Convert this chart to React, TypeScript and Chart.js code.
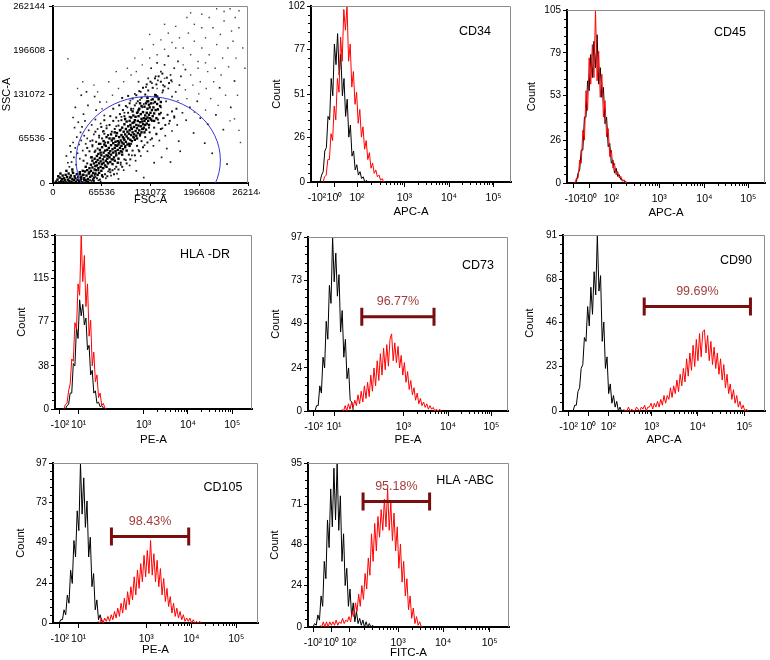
import React, { useEffect, useRef } from "react";
import { Chart, registerables } from "chart.js";

Chart.register(...registerables);

const FONT = "'Liberation Sans', Arial, Helvetica, sans-serif";
const BIN = 0.8; // histogram channel width, in % of the display axis
const SCATTER_UNIT = 1000;

// ---------- Scatter (FSC-A vs SSC-A), values in thousands ----------
const scatterTicks = [0, 65536, 131072, 196608, 262144];
const scatterMax = 262144;
const gateEllipse = { cx: 128000, cy: 34000, rx: 97000, ry: 94000 };

const scatterCore = [
  [4,2],[6,5],[8,1],[9,8],[11,3],[12,6],[13,11],[14,2],[15,7],[16,4],[17,12],[18,1],[19,9],[20,5],[21,14],[22,3],[23,8],[24,11],[25,2],[26,6],[27,15],[28,4],[29,10],[30,7],[31,2],[32,13],[33,5],[34,9],[35,3],[36,16],[10,14],[7,10],[18,18],[26,20],[38,6],[40,12],[42,4],
  [37,3],[38,9],[39,1],[41,12],[42,7],[43,17],[44,4],[45,11],[46,19],[47,6],[48,14],[49,22],[50,9],[36,13],[40,18],[44,24],[47,2],[49,16],
  [51,18],[51,27],[52,11],[53,23],[53,33],[54,15],[55,29],[55,8],[56,20],[56,36],[57,25],[57,14],[58,31],[58,19],[59,40],[59,26],[60,12],[60,34],[52,38],[54,5],
  [61,22],[61,43],[62,29],[62,15],[63,37],[63,49],[64,24],[64,32],[65,18],[65,41],[66,28],[66,53],[67,35],[67,22],[68,45],[68,30],[69,39],[69,57],[70,26],[70,48],[62,58],[66,11],[68,62],[64,45],
  [71,33],[71,55],[72,41],[72,24],[73,49],[73,36],[74,60],[74,29],[75,44],[75,52],[76,38],[76,66],[77,47],[77,31],[78,56],[78,42],[79,35],[79,63],[80,50],[80,28],[72,68],[76,20],[78,72],[74,40],
  [81,45],[81,59],[82,38],[82,66],[83,52],[83,33],[84,61],[84,47],[85,70],[85,41],[86,55],[86,74],[87,49],[87,62],[88,36],[88,57],[89,68],[89,44],[90,52],[90,78],[83,75],[87,30],[84,56],[89,60],
  [91,63],[91,47],[92,71],[92,55],[93,82],[93,60],[94,50],[94,68],[95,76],[95,58],[96,87],[96,64],[97,53],[97,72],[98,80],[98,61],[99,91],[99,69],[100,57],[100,76],[93,42],[97,95],[95,66],[99,48],
  [101,66],[101,84],[102,73],[102,58],[103,92],[103,78],[104,64],[104,86],[105,71],[105,97],[106,80],[106,62],[107,89],[107,75],[108,68],[108,100],[109,83],[109,72],[110,93],[110,64],[103,55],[107,106],[105,82],[109,90],
  [111,77],[111,98],[112,86],[112,70],[113,104],[113,81],[114,92],[114,74],[115,99],[115,85],[116,78],[116,110],[117,90],[117,72],[118,102],[118,84],[119,95],[119,114],[120,80],[120,91],[113,66],[117,118],[115,108],[119,75],
  [121,87],[121,105],[122,96],[122,82],[123,113],[123,92],[124,100],[124,86],[125,118],[125,95],[126,104],[126,88],[127,110],[127,97],[128,92],[128,121],[129,101],[129,86],[130,112],[130,96],[123,75],[127,126],[125,79],[129,116],
  [131,104],[132,94],[132,118],[133,108],[134,99],[134,124],[135,112],[136,103],[137,120],[138,108],[139,96],[140,117],[141,109],[142,124],[143,102],[144,114],[136,92],[140,128],[145,120],[138,130]
];

const scatterHalo = [
  [41,33],[44,41],[46,29],[49,47],[51,38],[53,56],[56,46],[58,61],[60,51],[62,70],[64,58],[66,66],[68,77],[70,60],[72,81],[74,71],[76,86],[79,76],[81,92],[83,80],[85,97],[88,85],[90,102],[92,93],[94,108],[96,99],[98,114],[101,104],[103,118],[105,110],[107,125],[110,115],[112,130],[114,121],[116,136],[119,126],[121,141],[124,131],[126,146],[128,137],[131,150],[134,141],[137,155],[139,146],[142,158],[145,150],[147,162],[150,143],[153,156],[156,148],
  [46,52],[53,63],[57,76],[65,83],[69,93],[77,99],[81,110],[89,115],[93,126],[101,129],[57,48],[69,73],[80,66],[91,79],[103,98],[114,105],[126,121],[137,128],[148,137],[159,152],
  [45,2],[50,4],[55,3],[59,7],[63,5],[67,9],[70,13],[73,10],[77,16],[80,19],[82,13],[85,24],[88,20],[91,30],[93,24],[96,35],[99,29],[102,42],[104,35],[107,48],[110,41],[113,55],[116,47],[119,62],[121,53],[124,68],[127,60],[130,75],[133,66],[136,82],[139,73],[142,89],[145,80],[148,96],[151,86],[154,101],[157,92],[160,106],[163,97],[166,110],
  [56,12],[61,19],[68,22],[73,31],[81,35],[85,44],[93,46],[97,55],[105,58],[109,67],[117,70],[121,80],[129,82],[133,92],[141,94],[145,104]
];

const scatterMid = [
  [22,24],[25,31],[28,38],[24,46],[30,52],[27,60],[33,44],[35,57],[32,68],[37,75],[29,82],[34,90],[38,63],[40,48],[42,70],[44,58],[36,36],[31,27],[26,17],[20,30],[18,40],[23,55],[39,83],[43,92],[46,66],[48,78],[41,102],[52,86],[50,62],[55,72],[57,94],[53,54],[60,80],[62,67],[58,108],[47,115],[64,88],[67,76],[69,100],[72,85],[63,120],[56,128],[45,135],[38,130],[30,112],[27,97],
  [52,3],[57,9],[61,4],[66,12],[71,7],[74,17],[78,11],[83,21],[86,14],[91,27],[95,19],[98,34],[103,26],[106,41],[111,33],[115,49],[118,40],[123,56],[127,47],[131,64],[135,55],[139,72],[143,63],[147,81],[151,70],[156,88],[149,96],[160,77],[167,86],[163,99],[174,104],[179,93],[184,112],[169,62],[153,51],[146,38],[158,31],[171,47],[189,74],[198,96],[208,87],[194,121],[204,59],[219,101],[229,79],[239,112],[214,44],[234,28],[224,141],[244,151],[64,2],[88,6],[112,18],[136,30],[122,8],
  [108,110],[112,118],[117,123],[122,117],[127,128],[132,123],[137,131],[142,126],[147,134],[152,121],[118,135],[125,142],[133,148],[141,152],[148,145],[155,140],[160,128],[165,135],[170,145],[145,165],[138,158],[128,155],[150,175],[158,160],[163,170],[172,158],[178,168],[168,180],[155,188],[140,178],[132,170],[115,150],[110,132],[104,122],[100,112],[96,104],[92,98],[88,92],[85,84],[97,94],[105,108],[113,104],[120,112],[135,118],[145,112]
];

const scatterSparse = [
  [175,200],[185,190],[190,210],[182,222],[195,180],[200,200],[205,215],[210,190],[215,230],[220,205],[225,220],[230,240],[235,200],[240,225],[245,245],[250,255],[242,210],[228,185],[218,170],[208,165],[198,150],[188,145],[178,138],[168,122],[196,132],[206,140],[216,150],[226,160],[236,172],[246,185],[232,130],[244,95],[252,60],[248,130],[160,208],[150,198],[140,190],[130,185],[120,175],[112,165],[105,160],[95,150],[88,140],[80,130],[72,120],[66,110],[60,135],[55,145],[20,184],[40,150],[33,140],[75,150],[85,165],[100,170],[110,185],[120,198],[135,205],[145,212],[155,222],[165,232],[170,215],[180,245],[190,235],[200,250],[210,245],[220,258],[238,258],[230,254],[250,230],[255,200],[258,170],[200,230],[185,252],[165,200],[150,235],[130,220],[160,150],[175,175],[140,140],[150,155],[185,160],[195,170],[205,178],[212,125],[222,115],[238,92],[250,78],[180,125],[190,105],[205,108]
];

// ---------- Histogram axis labels ----------
const apcLabels = ["-10²", "10⁰", "10²", "10³", "10⁴", "10⁵"];
const peLabels = ["-10²", "10¹", "10³", "10⁴", "10⁵"];

const cd34TickPos = [3, 11.7, 23, 46.7, 69, 91.3];
const cd45TickPos = [3.4, 11.3, 22.4, 46.6, 69.4, 91.6];
const hladrTickPos = [2.5, 12, 45, 67.5, 90];
const cd73TickPos = [2.8, 13, 47.7, 70, 91.7];
const cd90TickPos = [2.8, 12.6, 22.5, 43.8, 66.8, 89.8];
const cd105TickPos = [3.3, 12.5, 45.5, 67.5, 89.4];
const hlaabcTickPos = [2.5, 11.6, 20.4, 44.8, 67.2, 90.4];

const cd34YTicks = [0, 26, 51, 77, 102];
const cd45YTicks = [0, 26, 53, 79, 105];
const hladrYTicks = [0, 38, 77, 115, 153];
const cd73YTicks = [0, 24, 49, 73, 97];
const cd90YTicks = [0, 23, 46, 68, 91];
const cd105YTicks = [0, 24, 49, 73, 97];
const hlaabcYTicks = [0, 24, 48, 71, 95];

// ---------- Histogram counts (black = isotype control, red = marker) ----------
const cd34BlackStart = 4.5;
const cd34Black = [0,4,6,18,20,38,36,60,50,80,68,86,62,74,50,60,38,48,26,33,15,18,7,10,4,6,2,3,0,1,0];
const cd34RedStart = 6;
const cd34Red = [0,3,4,13,13,28,24,44,36,60,52,84,70,100,88,102,70,80,55,64,45,52,34,42,26,32,19,24,13,17,8,11,5,7,3,4,1,2,0,0];

const cd45BlackStart = 4;
const cd45Black = [0,1,6,8,20,20,40,40,62,56,78,64,86,70,90,60,70,52,58,36,40,22,24,12,14,6,9,4,5,2,2,1,1,0];
const cd45RedStart = 4;
const cd45Red = [0,3,3,14,12,32,26,56,44,76,60,84,64,105,62,80,52,66,40,50,28,33,16,20,9,12,5,7,3,4,1,2,0,0];

const hladrBlackStart = 5.3;
const hladrBlack = [0,3,4,14,14,40,38,72,62,96,82,92,74,80,52,56,30,34,14,16,5,6,2,3,1,0];
const hladrRedStart = 4.5;
const hladrRed = [0,4,5,16,22,44,42,76,70,110,100,153,112,135,90,110,64,78,38,50,24,30,10,14,3,5,1,0];

const cd73BlackStart = 3.5;
const cd73Black = [0,3,3,14,10,30,24,50,40,70,60,97,72,88,64,76,44,56,30,40,18,24,6,5,0];
const cd73RedStart = 17;
const cd73Red = [1,0,3,0,4,1,5,2,6,3,9,4,11,5,14,7,16,8,20,11,24,14,28,17,32,20,35,23,37,25,40,43,28,38,27,36,24,31,20,27,16,22,12,17,9,13,6,10,4,7,3,5,2,4,1,3,1,2,0,1,0,1,0];

const cd90BlackStart = 5;
const cd90Black = [0,3,3,10,12,22,24,38,36,54,44,64,50,72,60,91,62,70,36,46,22,28,9,14,4,8,2,5,0,2,0,0];
const cd90RedStart = 30;
const cd90Red = [1,0,0,2,0,1,0,0,2,1,0,2,1,3,0,2,2,4,1,4,2,5,2,6,3,8,4,8,6,12,7,13,9,16,10,19,13,22,15,27,18,30,21,34,23,37,26,40,28,41,42,30,39,26,36,24,33,22,30,19,27,16,24,12,19,9,14,6,11,4,8,2,5,1,3,0,1,0];

const cd105BlackStart = 3;
const cd105Black = [0,2,2,8,5,17,12,32,24,50,40,68,56,97,66,88,58,74,40,52,22,30,8,14,2,5,1,0];
const cd105RedStart = 22;
const cd105Red = [1,0,3,0,3,1,4,1,5,2,7,3,9,4,12,6,15,8,19,11,22,14,28,17,32,21,36,25,41,28,44,30,50,29,42,25,38,22,33,17,27,13,21,10,16,6,12,4,9,3,7,2,5,1,3,1,3,0,2,0,1,0,1,0];

const hlaabcBlackStart = 2.5;
const hlaabcBlack = [0,2,1,7,4,18,12,38,28,62,46,80,58,92,62,95,56,76,38,54,24,34,12,22,6,14,3,9,2,5,1,4,0,3,0,2,0,1,0,0];
const hlaabcRedStart = 6;
const hlaabcRed = [1,0,3,0,3,0,3,1,3,1,4,1,3,2,5,2,4,3,6,3,9,6,14,9,19,12,24,16,31,22,40,30,54,38,60,44,64,52,68,56,74,58,80,56,72,50,66,44,58,34,48,26,38,18,28,10,18,5,11,2,6,1,3,0,0];

// ---------- Positive gates: [from %, to %, count level] ----------
const cd73Gate = [26.9, 63, 52.5];
const cd73GateLabel = "96.77%";
const cd90Gate = [40.2, 92.8, 54];
const cd90GateLabel = "99.69%";
const cd105Gate = [28.5, 66.2, 52.4];
const cd105GateLabel = "98.43%";
const hlaabcGate = [27.4, 60.5, 72.7];
const hlaabcGateLabel = "95.18%";

// ---------- helpers / plugins ----------
const SUP: Record<string, number> = { "⁰": 0, "¹": 1, "²": 2, "³": 3, "⁴": 4, "⁵": 5 };

function toPoints(vals: number[], start: number) {
  return vals.map((v, i) => ({ x: start + i * BIN, y: v }));
}

const framePlugin = {
  id: "frame",
  afterDatasetsDraw(chart: any) {
    const { ctx, chartArea: a } = chart;
    ctx.save();
    ctx.strokeStyle = "#8c8c8c";
    ctx.lineWidth = 1;
    ctx.beginPath();
    ctx.moveTo(a.left, a.top + 0.5);
    ctx.lineTo(a.right - 0.5, a.top + 0.5);
    ctx.lineTo(a.right - 0.5, a.bottom);
    ctx.stroke();
    ctx.restore();
  },
};

const minorTicksPlugin = {
  id: "minorTicks",
  afterDraw(chart: any, _args: any, opts: any) {
    const { ctx, chartArea: a, scales } = chart;
    const x = scales.x, y = scales.y;
    ctx.save();
    ctx.strokeStyle = "#000";
    ctx.lineWidth = 1;
    ctx.beginPath();
    const yt: number[] = opts.yTicks || [];
    const sub = opts.ySub || 5;
    for (let i = 0; i < yt.length - 1; i++) {
      const step = (yt[i + 1] - yt[i]) / sub;
      for (let k = 1; k < sub; k++) {
        const py = Math.round(y.getPixelForValue(yt[i] + k * step)) + 0.5;
        ctx.moveTo(a.left - 3, py);
        ctx.lineTo(a.left, py);
      }
    }
    const pos: number[] = opts.xPos || [];
    const labels: string[] = opts.xLabels || [];
    const dec = pos.map((p, i) => {
      const l = labels[i];
      if (!l || l[0] === "-") return null;
      const e = SUP[l[l.length - 1]];
      return e === undefined ? null : [p, e];
    });
    for (let i = 0; i < dec.length - 1; i++) {
      const d0 = dec[i], d1 = dec[i + 1];
      if (!d0 || !d1 || d1[1] - d0[1] !== 1 || d0[1] < 1) continue;
      for (let k = 2; k <= 9; k++) {
        const px = Math.round(x.getPixelForValue(d0[0] + Math.log10(k) * (d1[0] - d0[0]))) + 0.5;
        ctx.moveTo(px, a.bottom);
        ctx.lineTo(px, a.bottom + 3);
      }
    }
    ctx.stroke();
    ctx.restore();
  },
};

const annotPlugin = {
  id: "annot",
  afterDatasetsDraw(chart: any, _args: any, opts: any) {
    const { ctx, chartArea: a, scales } = chart;
    ctx.save();
    if (opts.name) {
      ctx.fillStyle = "#000";
      ctx.font = `12.5px ${FONT}`;
      ctx.textAlign = "center";
      ctx.textBaseline = "middle";
      ctx.fillText(opts.name, a.right + opts.nameDx, a.top + opts.nameDy);
    }
    if (opts.gate) {
      const [g0, g1, lv] = opts.gate;
      const x0 = scales.x.getPixelForValue(g0);
      const x1 = scales.x.getPixelForValue(g1);
      const py = scales.y.getPixelForValue(lv);
      ctx.strokeStyle = "#7a0d0d";
      ctx.lineWidth = 3;
      ctx.beginPath();
      ctx.moveTo(x0, py);
      ctx.lineTo(x1, py);
      ctx.moveTo(x0, py - 9);
      ctx.lineTo(x0, py + 9);
      ctx.moveTo(x1, py - 9);
      ctx.lineTo(x1, py + 9);
      ctx.stroke();
      ctx.fillStyle = "#a23c3c";
      ctx.font = `12.5px ${FONT}`;
      ctx.textAlign = "center";
      ctx.textBaseline = "middle";
      ctx.fillText(opts.gateLabel, (x0 + x1) / 2, py - 15);
    }
    ctx.restore();
  },
};

const ellipsePlugin = {
  id: "ellipseGate",
  afterDatasetsDraw(chart: any) {
    const { ctx, chartArea: a, scales } = chart;
    const x = scales.x, y = scales.y;
    const cx = x.getPixelForValue(gateEllipse.cx);
    const cy = y.getPixelForValue(gateEllipse.cy);
    const rx = Math.abs(x.getPixelForValue(gateEllipse.cx + gateEllipse.rx) - cx);
    const ry = Math.abs(y.getPixelForValue(gateEllipse.cy + gateEllipse.ry) - cy);
    ctx.save();
    ctx.beginPath();
    ctx.rect(a.left, a.top, a.right - a.left, a.bottom - a.top);
    ctx.clip();
    ctx.beginPath();
    ctx.ellipse(cx, cy, rx, ry, 0, 0, Math.PI * 2);
    ctx.strokeStyle = "#3838d0";
    ctx.lineWidth = 1;
    ctx.stroke();
    ctx.restore();
  },
};

// ---------- panels ----------
type HistCfg = {
  name: string;
  xTitle: string;
  plotLeft: number;
  plotTop: number;
  plotW: number;
  plotH: number;
  yAxisW: number;
  xAxisH: number;
  xTickPos: number[];
  xTickLabels: string[];
  yTicks: number[];
  red: number[];
  redStart: number;
  black: number[];
  blackStart: number;
  gate?: number[];
  gateLabel?: string;
  nameDx: number;
  nameDy: number;
};

const PAD_TOP = 9;
const PAD_RIGHT = 6;

const histPanels: HistCfg[] = [
  { name: "CD34", xTitle: "APC-A", plotLeft: 311, plotTop: 6, plotW: 200, plotH: 176, yAxisW: 41, xAxisH: 37, xTickPos: cd34TickPos, xTickLabels: apcLabels, yTicks: cd34YTicks, red: cd34Red, redStart: cd34RedStart, black: cd34Black, blackStart: cd34BlackStart, nameDx: -36, nameDy: 26 },
  { name: "CD45", xTitle: "APC-A", plotLeft: 567, plotTop: 10, plotW: 198, plotH: 173, yAxisW: 42, xAxisH: 37, xTickPos: cd45TickPos, xTickLabels: apcLabels, yTicks: cd45YTicks, red: cd45Red, redStart: cd45RedStart, black: cd45Black, blackStart: cd45BlackStart, nameDx: -35, nameDy: 23 },
  { name: "HLA -DR", xTitle: "PE-A", plotLeft: 55, plotTop: 235, plotW: 197, plotH: 174, yAxisW: 40, xAxisH: 38, xTickPos: hladrTickPos, xTickLabels: peLabels, yTicks: hladrYTicks, red: hladrRed, redStart: hladrRedStart, black: hladrBlack, blackStart: hladrBlackStart, nameDx: -47, nameDy: 20 },
  { name: "CD73", xTitle: "PE-A", plotLeft: 308, plotTop: 237, plotW: 200, plotH: 174, yAxisW: 39, xAxisH: 36, xTickPos: cd73TickPos, xTickLabels: peLabels, yTicks: cd73YTicks, red: cd73Red, redStart: cd73RedStart, black: cd73Black, blackStart: cd73BlackStart, gate: cd73Gate, gateLabel: cd73GateLabel, nameDx: -30, nameDy: 29 },
  { name: "CD90", xTitle: "APC-A", plotLeft: 563, plotTop: 235, plotW: 202, plotH: 176, yAxisW: 40, xAxisH: 36, xTickPos: cd90TickPos, xTickLabels: apcLabels, yTicks: cd90YTicks, red: cd90Red, redStart: cd90RedStart, black: cd90Black, blackStart: cd90BlackStart, gate: cd90Gate, gateLabel: cd90GateLabel, nameDx: -29, nameDy: 26 },
  { name: "CD105", xTitle: "PE-A", plotLeft: 53, plotTop: 463, plotW: 205, plotH: 160, yAxisW: 39, xAxisH: 34, xTickPos: cd105TickPos, xTickLabels: peLabels, yTicks: cd105YTicks, red: cd105Red, redStart: cd105RedStart, black: cd105Black, blackStart: cd105BlackStart, gate: cd105Gate, gateLabel: cd105GateLabel, nameDx: -35, nameDy: 25 },
  { name: "HLA -ABC", xTitle: "FITC-A", plotLeft: 308, plotTop: 463, plotW: 201, plotH: 164, yAxisW: 40, xAxisH: 33, xTickPos: hlaabcTickPos, xTickLabels: apcLabels, yTicks: hlaabcYTicks, red: hlaabcRed, redStart: hlaabcRedStart, black: hlaabcBlack, blackStart: hlaabcBlackStart, gate: hlaabcGate, gateLabel: hlaabcGateLabel, nameDx: -44, nameDy: 18 },
];

function HistPanel({ cfg }: { cfg: HistCfg }) {
  const ref = useRef<HTMLCanvasElement>(null);
  const w = cfg.yAxisW + cfg.plotW + PAD_RIGHT;
  const h = PAD_TOP + cfg.plotH + cfg.xAxisH;
  useEffect(() => {
    const canvas = ref.current;
    if (!canvas) return;
    const chart = new Chart(canvas, {
      type: "line",
      data: {
        datasets: [
          { data: toPoints(cfg.red, cfg.redStart), borderColor: "#ff0000", borderWidth: 1, pointRadius: 0, tension: 0, fill: false },
          { data: toPoints(cfg.black, cfg.blackStart), borderColor: "#000000", borderWidth: 1, pointRadius: 0, tension: 0, fill: false },
        ],
      } as any,
      options: {
        responsive: false,
        animation: false,
        events: [],
        layout: { padding: { top: PAD_TOP, right: PAD_RIGHT, left: 0, bottom: 0 } },
        plugins: {
          legend: { display: false },
          tooltip: { enabled: false },
          minorTicks: { yTicks: cfg.yTicks, ySub: 5, xPos: cfg.xTickPos, xLabels: cfg.xTickLabels },
          annot: { name: cfg.name, nameDx: cfg.nameDx, nameDy: cfg.nameDy, gate: cfg.gate, gateLabel: cfg.gateLabel },
        } as any,
        scales: {
          x: {
            type: "linear",
            min: 0,
            max: 100,
            afterFit: (s: any) => { s.height = cfg.xAxisH; },
            afterBuildTicks: (s: any) => { s.ticks = cfg.xTickPos.map((v) => ({ value: v })); },
            ticks: {
              autoSkip: false,
              maxRotation: 0,
              minRotation: 0,
              padding: 5,
              color: "#000",
              font: { size: 10.5, family: FONT },
              callback: (_v: any, i: number) => cfg.xTickLabels[i],
            },
            grid: { display: true, drawOnChartArea: false, drawTicks: true, tickLength: 5, color: "#000", lineWidth: 1 },
            border: { display: true, color: "#000", width: 2 },
            title: { display: true, text: cfg.xTitle, padding: 0, color: "#000", font: { size: 11.5, family: FONT } },
          },
          y: {
            type: "linear",
            min: 0,
            max: cfg.yTicks[cfg.yTicks.length - 1],
            afterFit: (s: any) => { s.width = cfg.yAxisW; },
            afterBuildTicks: (s: any) => { s.ticks = cfg.yTicks.map((v) => ({ value: v })); },
            ticks: { padding: 2, color: "#000", font: { size: 10, family: FONT }, callback: (v: any) => String(v) },
            grid: { display: true, drawOnChartArea: false, drawTicks: true, tickLength: 4, color: "#000", lineWidth: 1 },
            border: { display: true, color: "#000", width: 2 },
            title: { display: true, text: "Count", padding: 0, color: "#000", font: { size: 11, family: FONT } },
          },
        } as any,
      },
      plugins: [framePlugin, minorTicksPlugin, annotPlugin],
    } as any);
    return () => chart.destroy();
  }, [cfg]);
  return (
    <canvas
      ref={ref}
      width={w}
      height={h}
      style={{ position: "absolute", left: cfg.plotLeft - cfg.yAxisW, top: cfg.plotTop - PAD_TOP, width: w, height: h }}
    />
  );
}

const SC = { plotLeft: 53, plotTop: 6, plotW: 195, plotH: 177, yAxisW: 53, xAxisH: 24, padTop: 10, padRight: 24 };

function ScatterPanel() {
  const ref = useRef<HTMLCanvasElement>(null);
  const w = SC.yAxisW + SC.plotW + SC.padRight;
  const h = SC.padTop + SC.plotH + SC.xAxisH;
  useEffect(() => {
    const canvas = ref.current;
    if (!canvas) return;
    const toXY = (arr: number[][]) => arr.map(([x, y]) => ({ x: x * SCATTER_UNIT, y: y * SCATTER_UNIT }));
    const axis = (title: string, horizontal: boolean) => ({
      type: "linear",
      min: 0,
      max: scatterMax,
      afterFit: (s: any) => { if (horizontal) s.height = SC.xAxisH; else s.width = SC.yAxisW; },
      afterBuildTicks: (s: any) => { s.ticks = scatterTicks.map((v) => ({ value: v })); },
      ticks: { autoSkip: false, maxRotation: 0, minRotation: 0, padding: horizontal ? 1 : 4, color: "#000", font: { size: 9.5, family: FONT }, callback: (v: any) => String(v) },
      grid: { display: true, drawOnChartArea: false, drawTicks: true, tickLength: horizontal ? 3 : 4, color: "#000", lineWidth: 1 },
      border: { display: true, color: "#000", width: 2 },
      title: { display: true, text: title, padding: 0, color: "#000", font: { size: 11, family: FONT } },
    });
    const chart = new Chart(canvas, {
      type: "scatter",
      data: {
        datasets: [
          { data: toXY(scatterCore), pointStyle: "rect", pointRadius: 1.7, borderWidth: 0, backgroundColor: "#000" },
          { data: toXY(scatterHalo), pointStyle: "rect", pointRadius: 1.4, borderWidth: 0, backgroundColor: "#111" },
          { data: toXY(scatterMid), pointStyle: "rect", pointRadius: 1.2, borderWidth: 0, backgroundColor: "#1a1a1a" },
          { data: toXY(scatterSparse), pointStyle: "rect", pointRadius: 1.0, borderWidth: 0, backgroundColor: "#444" },
        ],
      } as any,
      options: {
        responsive: false,
        animation: false,
        events: [],
        layout: { padding: { top: SC.padTop, right: SC.padRight, left: 0, bottom: 0 } },
        plugins: { legend: { display: false }, tooltip: { enabled: false } },
        scales: { x: axis("FSC-A", true), y: axis("SSC-A", false) } as any,
      },
      plugins: [framePlugin, ellipsePlugin],
    } as any);
    return () => chart.destroy();
  }, []);
  return (
    <div style={{ position: "absolute", left: 0, top: 0, width: 260, height: 215, overflow: "hidden" }}>
      <canvas
        ref={ref}
        width={w}
        height={h}
        style={{ position: "absolute", left: SC.plotLeft - SC.yAxisW, top: SC.plotTop - SC.padTop, width: w, height: h }}
      />
    </div>
  );
}

export default function App() {
  return (
    <div style={{ position: "absolute", left: 0, top: 0, width: 770, height: 660, overflow: "hidden", background: "#fff" }}>
      <ScatterPanel />
      {histPanels.map((p) => (
        <HistPanel key={p.name} cfg={p} />
      ))}
    </div>
  );
}
